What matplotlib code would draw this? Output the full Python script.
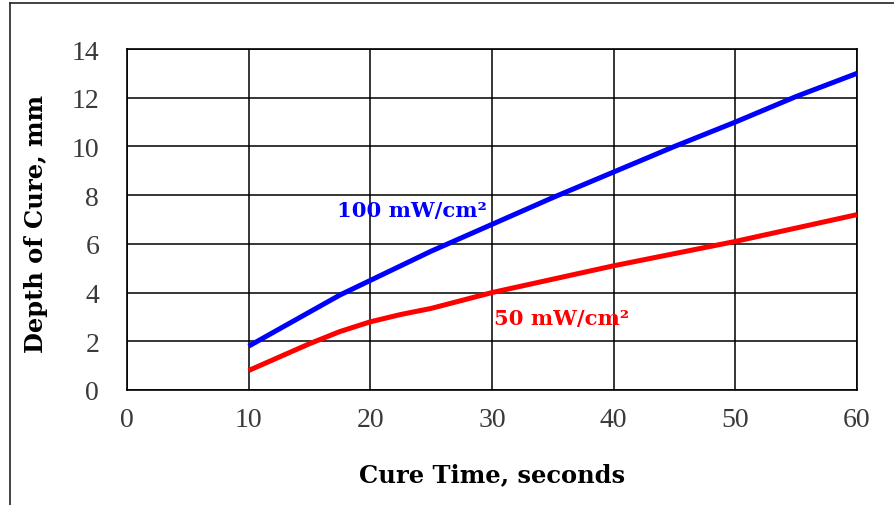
import matplotlib.pyplot as plt
from matplotlib.lines import Line2D

# Cure time (seconds) and depth of cure (mm)
time_blue = [10, 12.5, 15, 17.5, 20, 25, 30, 35, 40, 45, 50, 55, 60]
depth_100 = [1.8, 2.5, 3.2, 3.9, 4.5, 5.7, 6.8, 7.9, 8.95, 10.0, 11.0, 12.05, 13.0]

time_red = [10, 12.5, 15, 17.5, 20, 22.5, 25, 30, 40, 50, 60]
depth_50 = [0.8, 1.35, 1.9, 2.4, 2.8, 3.1, 3.35, 4.0, 5.1, 6.1, 7.2]

x_ticks = [0, 10, 20, 30, 40, 50, 60]
y_ticks = [0, 2, 4, 6, 8, 10, 12, 14]

fig = plt.figure(figsize=(8.94, 5.06), dpi=100)
ax = fig.add_axes([127 / 894, 1 - 391 / 506, 730 / 894, 341 / 506])

ax.plot(time_blue, depth_100, color='#0000ff', linewidth=3.6, solid_capstyle='butt', zorder=3)
ax.plot(time_red, depth_50, color='#ff0000', linewidth=3.6, solid_capstyle='butt', zorder=3)

ax.set_xlim(0, 60)
ax.set_ylim(0, 14)
ax.set_xticks(x_ticks)
ax.set_yticks(y_ticks)
ax.grid(True, color='black', linewidth=1.1)
ax.set_axisbelow(True)
for s in ax.spines.values():
    s.set_linewidth(1.2)
    s.set_color('black')

tick_font = dict(family='Liberation Serif', size=20, color='#3a3a3a')
ax.tick_params(length=0, pad=0)
ax.set_xticklabels([str(t) for t in x_ticks], **tick_font)
ax.set_yticklabels([str(t) for t in y_ticks], **tick_font)
ax.tick_params(axis='x', pad=12)
ax.tick_params(axis='y', pad=20)

label_font = dict(family='DejaVu Serif', weight='bold', size=17.4)
ax.set_xlabel('Cure Time, seconds', **label_font)
ax.set_ylabel('Depth of Cure, mm', **label_font)
ax.xaxis.set_label_coords(0.5, -0.211)
ax.yaxis.set_label_coords(-0.108, 0.49)

ax.text(17.3, 7.4, '100 mW/cm²', color='#0000ff', fontsize=15.2, family='DejaVu Serif',
        weight='bold', va='center', ha='left')
ax.text(30.2, 2.95, '50 mW/cm²', color='#ff0000', fontsize=15.2, family='DejaVu Serif',
        weight='bold', va='center', ha='left')

# outer frame (left and top edges visible)
fx = 10 / 894
fy = 1 - 4 / 506
fig.add_artist(Line2D([fx, fx], [0, fy], color='#222222', linewidth=1.2, transform=fig.transFigure))
fig.add_artist(Line2D([fx, 1], [fy, fy], color='#222222', linewidth=1.2, transform=fig.transFigure))

fig.savefig('out.png', dpi=100)
